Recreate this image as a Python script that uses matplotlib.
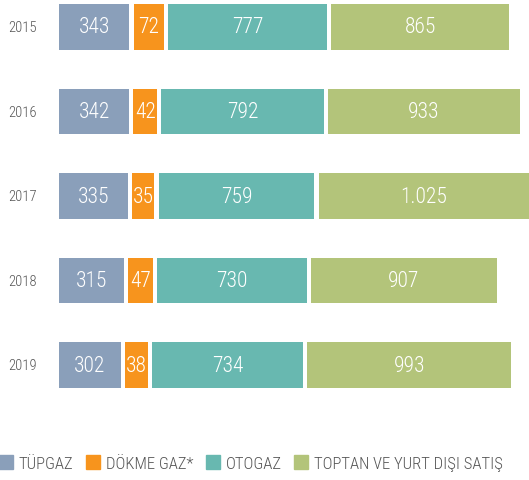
import numpy as np
import matplotlib.pyplot as plt
from matplotlib import font_manager as fm
from matplotlib.patches import Patch

years = ['2015', '2016', '2017', '2018', '2019']
tupgaz = [343, 342, 335, 315, 302]
dokme = [72, 42, 35, 47, 38]
otogaz = [777, 792, 759, 730, 734]
toptan = [865, 933, 1025, 907, 993]

series = [tupgaz, dokme, otogaz, toptan]
names = ['TÜPGAZ', 'DÖKME GAZ*', 'OTOGAZ', 'TOPTAN VE YURT DIŞI SATIŞ']
colors = ['#8a9fba', '#f7941d', '#68b8b0', '#b3c47a']

# condensed font, first one installed
installed = set(f.name for f in fm.fontManager.ttflist)
font = 'DejaVu Sans'
for cand in ['Roboto Condensed', 'Barlow Condensed', 'Saira Condensed',
             'Open Sans Condensed', 'Liberation Sans Narrow']:
    if cand in installed:
        font = cand
        break
plt.rcParams['font.family'] = [font, 'DejaVu Sans']
plt.rcParams['font.weight'] = 'light'

def fmt(v):
    return '{:,}'.format(v).replace(',', '.')

fig = plt.figure(figsize=(5.29, 4.81), dpi=100)
ax = fig.add_axes([0.1115, 0.1684, 0.8885, 0.8316])

gap = 20
pad = 75  # small segments drawn a bit wider so the label fits
y = np.arange(len(years))
left = np.zeros(len(years))
for vals, c in zip(series, colors):
    vals = np.array(vals)
    w = np.where(vals < 100, vals + pad, vals)
    ax.barh(y, w, left=left, height=0.54, color=c)
    for yi, l, wi, v in zip(y, left, w, vals):
        ax.text(l + wi / 2, yi, fmt(v), ha='center', va='center',
                color='white', fontsize=15.5)
    left = left + w + gap

ax.set_xlim(0, left.max() - gap)
ax.set_ylim(4.40, -0.331)
ax.axis('off')

for yi, yr in zip(y, years):
    ax.annotate(yr, xy=(0, yi), xytext=(-26, 0), textcoords='offset points',
                ha='center', va='center', fontsize=10.5, color='#555555')

handles = [Patch(color=c) for c in colors]
fig.legend(handles, names, loc='center left', bbox_to_anchor=(-0.031, 0.035),
           ncol=4, frameon=False, fontsize=12, handlelength=0.85,
           handleheight=0.85, handletextpad=0.35, columnspacing=0.75,
           labelcolor='#555555')

fig.savefig('out.png', dpi=100)
